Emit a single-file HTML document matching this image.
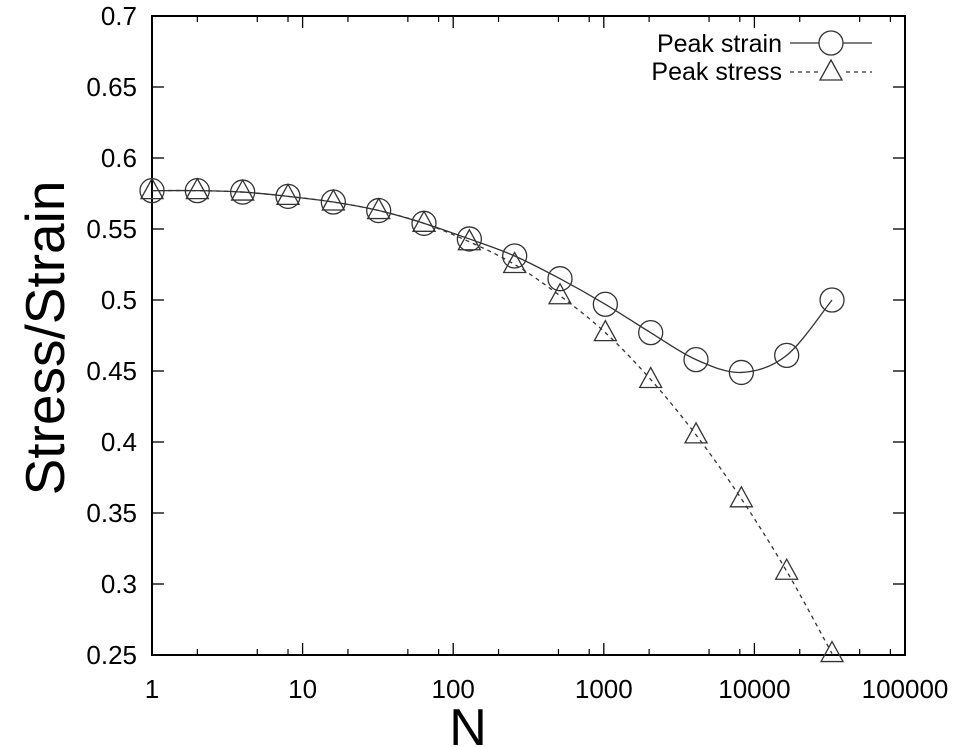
<!DOCTYPE html>
<html><head><meta charset="utf-8"><style>
html,body{margin:0;padding:0;background:#fff;}
svg{display:block;font-family:"Liberation Sans",Arial,sans-serif;}
</style></head><body>
<svg id="chart" width="957" height="747" viewBox="0 0 957 747" xmlns="http://www.w3.org/2000/svg">
<g id="axes"></g>
<g id="series"></g>
<g id="legend"></g>
<text x="0" y="0" font-size="55" text-anchor="middle" transform="translate(64,338) rotate(-90)">Stress/Strain</text>
<text x="468" y="745" font-size="52" text-anchor="middle">N</text>
</svg>
<script>
const xValues = [1,2,4,8,16,32,64,128,256,512,1024,2048,4096,8192,16384,32768];
const strainValues = [0.577,0.577,0.576,0.573,0.569,0.563,0.554,0.543,0.531,0.515,0.497,0.477,0.458,0.449,0.461,0.500];
const stressValues = [0.577,0.577,0.576,0.573,0.569,0.563,0.554,0.541,0.525,0.503,0.477,0.444,0.405,0.360,0.309,0.251];
const xTickLabels = ["1","10","100","1000","10000","100000"];
const yTickLabels = ["0.25","0.3","0.35","0.4","0.45","0.5","0.55","0.6","0.65","0.7"];

const NS="http://www.w3.org/2000/svg";
const L=152,R=905,T=16,B=655;
const xMin=1,xMax=100000,yMin=0.25,yMax=0.7;
function xs(v){return L+(Math.log10(v)-Math.log10(xMin))/(Math.log10(xMax)-Math.log10(xMin))*(R-L);}
function ys(v){return B-(v-yMin)/(yMax-yMin)*(B-T);}
function mk(tag,attrs,parent){const e=document.createElementNS(NS,tag);for(const k in attrs)e.setAttribute(k,attrs[k]);parent.appendChild(e);return e;}

const axes=document.getElementById('axes');
const frame=mk('rect',{x:L,y:T,width:R-L,height:B-T,fill:'none',stroke:'#000','stroke-width':2},axes);


xTickLabels.forEach(function(lab){
  const v=parseFloat(lab),x=xs(v);
  const t1=mk('line',{x1:x,y1:B,x2:x,y2:B-12,stroke:'#000','stroke-width':1.3},axes);
  
  
  const t2=mk('line',{x1:x,y1:T,x2:x,y2:T+12,stroke:'#000','stroke-width':1.3},axes);
  
  
  const tx=mk('text',{x:x,y:B+43,'font-size':26,'text-anchor':'middle'},axes);
  tx.textContent=lab;
  
  
  if(v<xMax){[2,5,8].forEach(function(m){
    const mx=xs(v*m);
    const a=mk('line',{x1:mx,y1:B,x2:mx,y2:B-6,stroke:'#000','stroke-width':1.2},axes);
    
    
    const b=mk('line',{x1:mx,y1:T,x2:mx,y2:T+6,stroke:'#000','stroke-width':1.2},axes);
    
    
  });}
});
yTickLabels.forEach(function(lab){
  const v=parseFloat(lab),y=ys(v);
  const t1=mk('line',{x1:L,y1:y,x2:L+12,y2:y,stroke:'#000','stroke-width':1.3},axes);
  
  
  const t2=mk('line',{x1:R,y1:y,x2:R-12,y2:y,stroke:'#000','stroke-width':1.3},axes);
  
  
  const tx=mk('text',{x:L-15,y:y+9,'font-size':26,'text-anchor':'end'},axes);
  tx.textContent=lab;
  
  
});

function smoothPath(pts){
  let d='M'+pts[0][0]+','+pts[0][1];
  for(let i=0;i<pts.length-1;i++){
    const p0=pts[Math.max(0,i-1)],p1=pts[i],p2=pts[i+1],p3=pts[Math.min(pts.length-1,i+2)];
    const c1=[p1[0]+(p2[0]-p0[0])/6,p1[1]+(p2[1]-p0[1])/6];
    const c2=[p2[0]-(p3[0]-p1[0])/6,p2[1]-(p3[1]-p1[1])/6];
    d+=' C'+c1[0]+','+c1[1]+' '+c2[0]+','+c2[1]+' '+p2[0]+','+p2[1];
  }
  return d;
}
const series=document.getElementById('series');
const strainPts=xValues.map(function(x,i){return [xs(x),ys(strainValues[i])];});
const stressPts=xValues.map(function(x,i){return [xs(x),ys(stressValues[i])];});
const sl=mk('path',{d:smoothPath(strainPts),fill:'none',stroke:'#333','stroke-width':1.3},series);


const tl=mk('path',{d:smoothPath(stressPts),fill:'none',stroke:'#333','stroke-width':1.3,'stroke-dasharray':'4,4'},series);


function tri(x,y,p){return mk('polygon',{points:(x)+','+(y-12)+' '+(x-11)+','+(y+8)+' '+(x+11)+','+(y+8),fill:'none',stroke:'#333','stroke-width':1.3},p);}
stressPts.forEach(function(p){
  const m=tri(p[0],p[1],series);
  
  
});
strainPts.forEach(function(p){
  const m=mk('circle',{cx:p[0],cy:p[1],r:12,fill:'none',stroke:'#333','stroke-width':1.3},series);
  
  
});

const lg=document.getElementById('legend');
const l1=mk('text',{x:782,y:52,'font-size':25,'text-anchor':'end'},lg);
l1.textContent='Peak strain';


const l1l=mk('line',{x1:790,y1:43,x2:872,y2:43,stroke:'#333','stroke-width':1.3},lg);


const l1m=mk('circle',{cx:831,cy:43,r:12,fill:'#fff',stroke:'#333','stroke-width':1.3},lg);


const l2=mk('text',{x:782,y:80,'font-size':25,'text-anchor':'end'},lg);
l2.textContent='Peak stress';


const l2l=mk('line',{x1:790,y1:72,x2:872,y2:72,stroke:'#333','stroke-width':1.3,'stroke-dasharray':'4,4'},lg);


const l2b=mk('rect',{x:818,y:58,width:26,height:24,fill:'#fff'},lg);


const l2m=tri(831,72,lg);


</script>
</body></html>
